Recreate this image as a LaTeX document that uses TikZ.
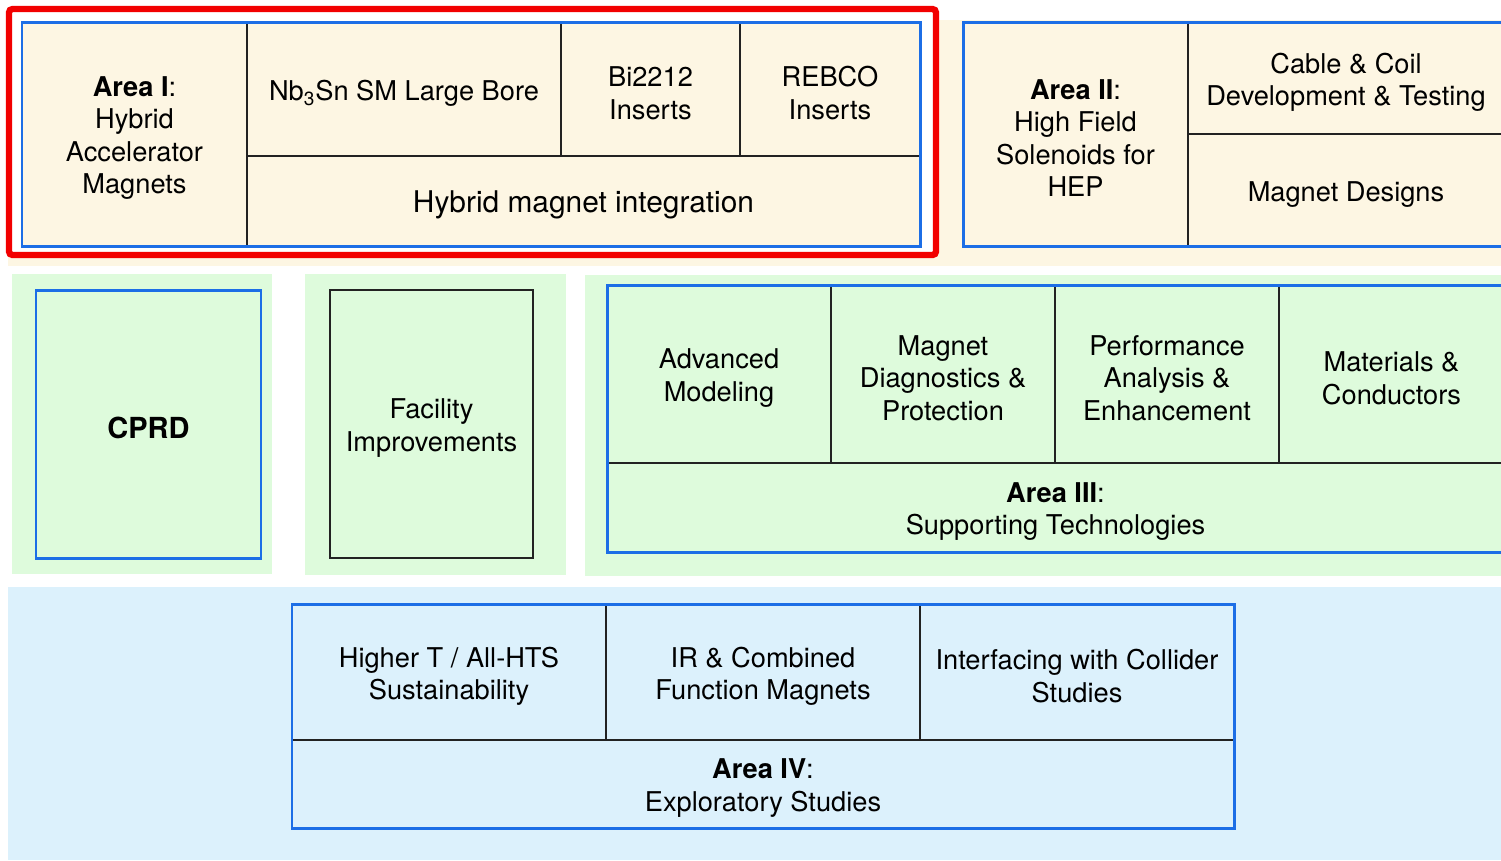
\documentclass[tikz,border=0pt]{standalone}
\usepackage{fontspec}
\setmainfont{TeX Gyre Heros}
\usetikzlibrary{fit}

\definecolor{areabeige}{HTML}{FDF6E3}
\definecolor{areagreen}{HTML}{DEFBDC}
\definecolor{areablue}{HTML}{DCF1FC}
\definecolor{frameblue}{HTML}{1C6EE6}
\definecolor{framered}{HTML}{F20000}
\definecolor{cellline}{HTML}{222222}

\begin{document}
\begin{tikzpicture}[
    x=0.02cm,
    y=-0.02cm,
    cell/.style={draw=cellline, line width=1.3pt, inner sep=0pt},
    celltext/.style={inner sep=0pt, align=center, yshift=-2.4pt,
        font=\fontsize{15.5}{18.5}\selectfont},
    areabox/.style={draw=frameblue, line width=1.7pt, inner sep=0pt}
]
    \useasboundingbox (0,0) rectangle (1501,860);

    % backgrounds
    \fill[areabeige] (8,20) rectangle (1501,266);
    \fill[areagreen] (12,274) rectangle (272,574);
    \fill[areagreen] (305,274) rectangle (566,575);
    \fill[areagreen] (585,275) rectangle (1501,576);
    \fill[areablue] (8,587) rectangle (1501,860);
    \draw[framered, line width=3.6pt, rounded corners=2pt, fill=white]
        (9,9) rectangle (936,255);

    \begin{scope}[
        every node/.append style={fill=areabeige}
    ]
        \node[cell, fit={(22,22) (247,246)},
            label={[celltext]center:{\textbf{Area I}:\\Hybrid\\Accelerator\\Magnets}}]
            (areaone) {};
        \node[cell, fit={(247,22) (561,156)},
            label={[celltext]center:{Nb\textsubscript{3}Sn SM Large Bore}}]
            (nbsn) {};
        \node[cell, fit={(561,22) (740,156)},
            label={[celltext]center:{Bi2212\\Inserts}}] (bitwo) {};
        \node[cell, fit={(740,22) (920,156)},
            label={[celltext]center:{REBCO\\Inserts}}] (rebco) {};
        \node[cell, fit={(247,156) (920,246)},
            label={[celltext, font=\fontsize{17}{20}\selectfont]center:{Hybrid magnet integration}}]
            (hybrid) {};
        \node[areabox, fill=none, fit={(22,22) (920,246)}] (areaoneframe) {};
    \end{scope}

    \begin{scope}
        \node[cell, fit={(963,22) (1188,246)},
            label={[celltext]center:{\textbf{Area II}:\\High Field\\Solenoids for\\HEP}}]
            (areatwo) {};
        \node[cell, fit={(1188,22) (1504,134)},
            label={[celltext]center:{Cable \& Coil\\Development \& Testing}}]
            (cable) {};
        \node[cell, fit={(1188,134) (1504,246)},
            label={[celltext]center:{Magnet Designs}}] (designs) {};
        \node[areabox, fit={(963,22) (1504,246)}] (areatwoframe) {};
    \end{scope}

    \node[areabox, fit={(36,290) (261,558)},
        label={[celltext, font=\fontsize{16.5}{19}\selectfont\bfseries]center:{CPRD}}]
        (cprd) {};
    \node[cell, fit={(330,290) (533,558)},
        label={[celltext]center:{Facility\\Improvements}}] (facility) {};

    \begin{scope}
        \node[cell, fit={(607,285) (831,463)},
            label={[celltext]center:{Advanced\\Modeling}}] (modeling) {};
        \node[cell, fit={(831,285) (1055,463)},
            label={[celltext]center:{Magnet\\Diagnostics \&\\Protection}}]
            (diagnostics) {};
        \node[cell, fit={(1055,285) (1279,463)},
            label={[celltext]center:{Performance\\Analysis \&\\Enhancement}}]
            (performance) {};
        \node[cell, fit={(1279,285) (1504,463)},
            label={[celltext]center:{Materials \&\\Conductors}}] (materials) {};
        \node[cell, fit={(607,463) (1504,552)},
            label={[celltext]center:{\textbf{Area III}:\\Supporting Technologies}}]
            (areathree) {};
        \node[areabox, fit={(607,285) (1504,552)}] (areathreeframe) {};
    \end{scope}

    \begin{scope}
        \node[cell, fit={(292,604) (606,740)},
            label={[celltext]center:{Higher T / All-HTS\\Sustainability}}]
            (highert) {};
        \node[cell, fit={(606,604) (920,740)},
            label={[celltext]center:{IR \& Combined\\Function Magnets}}]
            (combined) {};
        \node[cell, fit={(920,604) (1234,740)},
            label={[celltext]center:{Interfacing with Collider\\Studies}}]
            (collider) {};
        \node[cell, fit={(292,740) (1234,828)},
            label={[celltext]center:{\textbf{Area IV}:\\Exploratory Studies}}]
            (areafour) {};
        \node[areabox, fit={(292,604) (1234,828)}] (areafourframe) {};
    \end{scope}
\end{tikzpicture}
\end{document}
